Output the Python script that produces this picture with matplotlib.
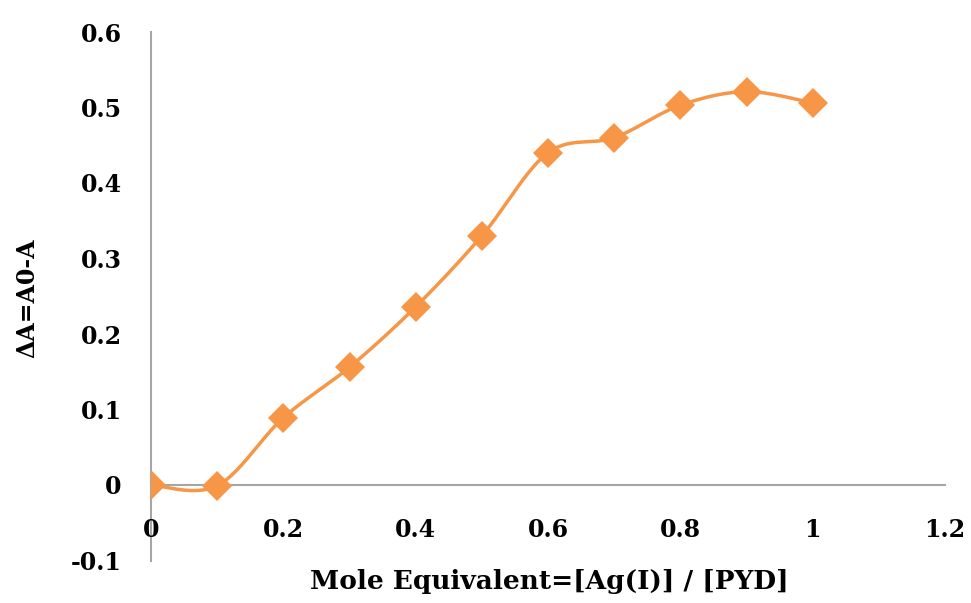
import numpy as np
import matplotlib
matplotlib.use("Agg")
import matplotlib.pyplot as plt

x_vals = [0.0, 0.1, 0.2, 0.3, 0.4, 0.5, 0.6, 0.7, 0.8, 0.9, 1.0]
y_vals = [0.0, -0.001, 0.089, 0.156, 0.236, 0.330, 0.440, 0.460, 0.503, 0.521, 0.506]
x_ticks = [0, 0.2, 0.4, 0.6, 0.8, 1.0, 1.2]
x_ticklabels = ["0", "0.2", "0.4", "0.6", "0.8", "1", "1.2"]
y_ticks = [-0.1, 0, 0.1, 0.2, 0.3, 0.4, 0.5, 0.6]
y_ticklabels = ["-0.1", "0", "0.1", "0.2", "0.3", "0.4", "0.5", "0.6"]

color = "#F79646"
axis_color = "#A6A6A6"
font = "DejaVu Serif"


def smooth(xs, ys, n=40):
    xs = np.asarray(xs, float)
    ys = np.asarray(ys, float)
    P = np.column_stack([xs, ys])
    out = []
    for i in range(len(P) - 1):
        p0 = P[i - 1] if i > 0 else P[i]
        p1 = P[i]
        p2 = P[i + 1]
        p3 = P[i + 2] if i + 2 < len(P) else P[i + 1]
        c1 = p1 + (p2 - p0) / 6.0
        c2 = p2 - (p3 - p1) / 6.0
        t = np.linspace(0, 1, n)[:, None]
        seg = ((1 - t) ** 3) * p1 + 3 * ((1 - t) ** 2) * t * c1 + 3 * (1 - t) * t ** 2 * c2 + t ** 3 * p2
        out.append(seg if i == 0 else seg[1:])
    seg = np.vstack(out)
    return seg[:, 0], seg[:, 1]


fig = plt.figure(figsize=(9.71, 6.03), dpi=100)
ax = fig.add_axes([151 / 971, 1 - 560.5 / 603, (945 - 151) / 971, (560.5 - 32) / 603])

sx, sy = smooth(x_vals, y_vals)
ax.plot(sx, sy, color=color, lw=2.5, solid_capstyle="round", zorder=3)
ax.plot(x_vals, y_vals, linestyle="none", marker="D", ms=15.5, color=color,
        markeredgewidth=0, zorder=4)

ax.set_xlim(0, 1.2)
ax.set_ylim(-0.1, 0.6)

for s in ["top", "right"]:
    ax.spines[s].set_visible(False)
ax.spines["bottom"].set_position(("data", 0))
ax.spines["left"].set_position(("data", 0))
for s in ["bottom", "left"]:
    ax.spines[s].set_color(axis_color)
    ax.spines[s].set_linewidth(1.5)
    ax.spines[s].set_zorder(1)

ax.set_xticks(x_ticks)
ax.set_xticklabels(x_ticklabels)
ax.set_yticks(y_ticks)
ax.set_yticklabels(y_ticklabels)
ax.tick_params(axis="both", length=0)
ax.tick_params(axis="x", pad=24)
ax.tick_params(axis="y", pad=21)
for lab in ax.get_xticklabels() + ax.get_yticklabels():
    lab.set_fontfamily(font)
    lab.set_fontweight("bold")
    lab.set_fontsize(17)

fig.text(549 / 971, 1 - 582 / 603, "Mole Equivalent=[Ag(I)] / [PYD]", ha="center", va="center",
         fontfamily=font, fontweight="bold", fontsize=19)
fig.text(27 / 971, 1 - 298 / 603, "ΔA=A0-A", ha="center", va="center", rotation=90,
         fontfamily=font, fontweight="bold", fontsize=17)

fig.savefig("out.png", dpi=100)
